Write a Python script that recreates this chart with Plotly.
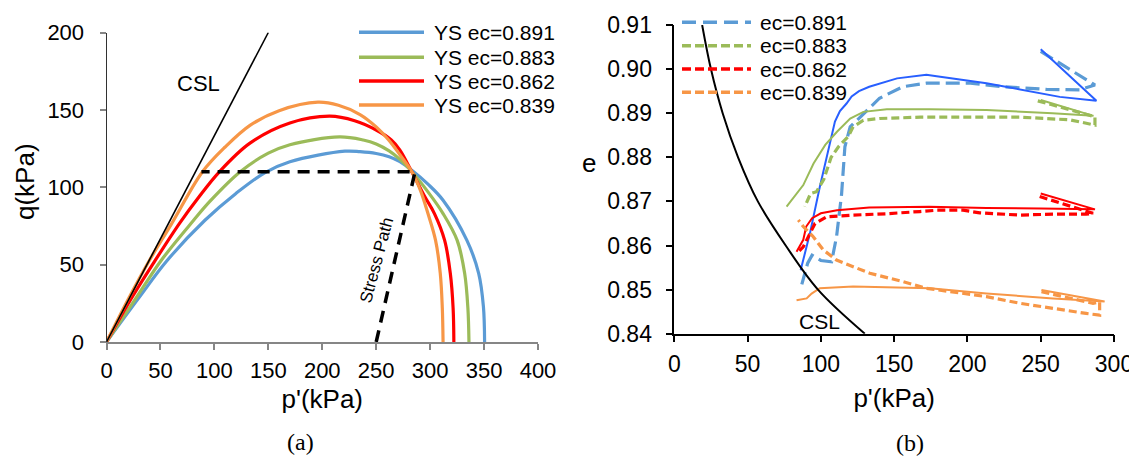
import plotly.graph_objects as go

# The page body has an 8px margin, so the figure is 8px smaller than the window
W, H = 1129, 448
OFF = 8

# ---------------- Panel (a): yield surfaces in p'-q space ----------------
csl_a_p = [0, 150]
csl_a_q = [0, 200]

stress_p = [250, 286, 88]
stress_q = [0, 110, 110]

ys_labels = ["YS ec=0.891", "YS ec=0.883", "YS ec=0.862", "YS ec=0.839"]

ys891_p = [0, 30, 56, 91, 120, 147, 170, 221, 235, 250, 262, 272, 283, 298, 312, 334, 345, 349.4, 350.5]
ys891_q = [0, 28.5, 52.5, 78.5, 96, 109.5, 116.5, 123.3, 123, 121.8, 119.7, 116.5, 111, 102, 91.6, 65.8, 44.4, 22.8, 0]

ys883_p = [0, 27, 51, 80, 96, 124, 150, 170, 216, 238, 250, 262, 272, 283, 298, 312, 325, 332, 335, 336]
ys883_q = [0, 28, 53, 78, 91, 110, 122, 127.5, 132.5, 130.5, 128, 123.5, 118, 110, 97, 83, 65.8, 44.4, 22, 0]

ys862_p = [0, 22, 44, 68, 86, 104, 133, 170, 207, 230, 250, 264, 272, 283, 295, 304, 313.4, 318.7, 321.3, 322]
ys862_q = [0, 27, 51.5, 77, 94, 109.5, 128.5, 141.5, 145.9, 143, 137, 130.5, 124, 110, 94, 83, 65.8, 44.4, 22, 0]

ys839_p = [0, 20, 40, 60, 89, 110, 133, 160, 196, 215, 235, 250, 261, 272, 283, 291, 298, 305, 309.4, 311.3, 312]
ys839_q = [0, 27.5, 53, 76, 110, 126, 140, 149.5, 155, 153, 147, 139, 131, 121, 110, 98, 83, 65.8, 44.4, 22, 0]

a_xticks = [0, 50, 100, 150, 200, 250, 300, 350, 400]
a_yticks = [0, 50, 100, 150, 200]

# ---------------- Panel (b): e - p' space ----------------
csl_b_p = [19, 25, 33, 43.5, 57, 76, 98, 130]
csl_b_e = [0.91, 0.90, 0.89, 0.88, 0.87, 0.86, 0.85, 0.84]

ec_labels = ["ec=0.891", "ec=0.883", "ec=0.862", "ec=0.839"]

sim891_p = [250, 288, 263, 236, 213, 179, 172, 152, 133, 126, 121, 117.5, 113, 109.6, 105, 99.3, 92.5, 86.2]
sim891_e = [0.9045, 0.8928, 0.8937, 0.8953, 0.8968, 0.8984, 0.8987, 0.8979, 0.8960, 0.8950, 0.8938, 0.8922, 0.8905, 0.8881, 0.8817, 0.8733, 0.8627, 0.8544]
exp891_p = [250, 287, 276.6, 254, 224, 202, 172, 156, 140, 127, 120, 116.4, 114.1, 110.7, 107.3, 100, 94, 91, 87]
exp891_e = [0.9040, 0.8964, 0.8953, 0.8954, 0.8960, 0.8968, 0.8968, 0.8960, 0.8934, 0.8892, 0.8869, 0.8824, 0.8715, 0.8620, 0.8563, 0.8566, 0.8578, 0.8560, 0.8512]

sim883_p = [250, 286, 258, 213, 174, 145, 129, 120, 111, 103, 95, 88, 76.6]
sim883_e = [0.8930, 0.8894, 0.8900, 0.8907, 0.8909, 0.8909, 0.8903, 0.8888, 0.8858, 0.8828, 0.8786, 0.8737, 0.8688]
exp883_p = [248, 287, 287, 270, 236, 190, 168, 140, 129, 122, 118.7, 112, 107, 102, 97, 93, 89]
exp883_e = [0.8928, 0.8892, 0.8873, 0.8885, 0.8891, 0.8892, 0.8891, 0.8888, 0.8884, 0.8869, 0.8847, 0.8824, 0.8800, 0.8750, 0.8722, 0.8718, 0.8688]

sim862_p = [250, 287, 286, 250, 213, 174, 133, 111, 100, 94, 90, 88, 83.4]
sim862_e = [0.8718, 0.8682, 0.8682, 0.8684, 0.8685, 0.8688, 0.8686, 0.8680, 0.8673, 0.8662, 0.8643, 0.8613, 0.8586]
exp862_p = [249.3, 285.7, 281, 258.4, 235.7, 224.3, 208.4, 197, 179, 167.5, 144.8, 122, 104, 96, 92.5, 88, 83.4]
exp862_e = [0.8711, 0.8673, 0.8671, 0.8671, 0.8669, 0.8671, 0.8674, 0.8680, 0.8680, 0.8677, 0.8672, 0.8669, 0.8665, 0.8650, 0.8628, 0.8597, 0.8582]

sim839_p = [250.5, 293.6, 258.4, 213, 174.4, 122, 99.3, 93.7, 90.3, 83.4]
sim839_e = [0.8499, 0.8473, 0.8480, 0.8491, 0.8503, 0.8507, 0.8503, 0.8491, 0.8480, 0.8476]
exp839_p = [250.5, 285.7, 290.2, 290.2, 281, 258.4, 235.7, 213, 190.2, 172, 156.2, 133.4, 110.7, 101.6, 94.8, 88, 84.6]
exp839_e = [0.8495, 0.8469, 0.8472, 0.8442, 0.8446, 0.8457, 0.8469, 0.8484, 0.8495, 0.8503, 0.8518, 0.8537, 0.8567, 0.8590, 0.8620, 0.8643, 0.8658]

b_xticks = [0, 50, 100, 150, 200, 250, 300]
b_yticks = [0.84, 0.85, 0.86, 0.87, 0.88, 0.89, 0.90, 0.91]
b_yticklabels = ["0.84", "0.85", "0.86", "0.87", "0.88", "0.89", "0.90", "0.91"]

# ---------------- styles ----------------
BLUE = "rgb(91,155,213)"
BLUE_SIM = "rgb(40,95,255)"
GREEN = "rgb(155,187,89)"
RED = "rgb(255,0,0)"
ORANGE = "rgb(247,150,70)"
FONT = "Liberation Sans, Arial, sans-serif"
SERIF = "Liberation Serif, Times New Roman, serif"
GRAYAX = "rgb(134,134,134)"


def px(x):
    return (x - OFF) / W


def py(y):
    return 1 - (y - OFF) / H


fig = go.Figure()

# panel (a)
for p, q, c in [(ys891_p, ys891_q, BLUE), (ys883_p, ys883_q, GREEN),
                (ys862_p, ys862_q, RED), (ys839_p, ys839_q, ORANGE)]:
    fig.add_trace(go.Scatter(x=p, y=q, mode="lines", xaxis="x", yaxis="y",
                             line=dict(color=c, width=3.2, shape="spline", smoothing=1.0),
                             showlegend=False, hoverinfo="skip"))
fig.add_trace(go.Scatter(x=csl_a_p, y=csl_a_q, mode="lines", xaxis="x", yaxis="y",
                         line=dict(color="black", width=1.6), showlegend=False))
fig.add_trace(go.Scatter(x=stress_p, y=stress_q, mode="lines", xaxis="x", yaxis="y",
                         line=dict(color="black", width=3.5, dash="12px,8px"), showlegend=False))

# panel (b)
pairs_b = [
    (sim891_p, sim891_e, exp891_p, exp891_e, BLUE_SIM, BLUE, "14px,6px"),
    (sim883_p, sim883_e, exp883_p, exp883_e, GREEN, GREEN, "8px,4px"),
    (sim862_p, sim862_e, exp862_p, exp862_e, RED, RED, "8px,4px"),
    (sim839_p, sim839_e, exp839_p, exp839_e, ORANGE, ORANGE, "8px,4px"),
]
for sp, se, ep, ee, cs, ce, dsh in pairs_b:
    fig.add_trace(go.Scatter(x=ep, y=ee, mode="lines", xaxis="x2", yaxis="y2",
                             line=dict(color=ce, width=3.2, dash=dsh), showlegend=False))
    fig.add_trace(go.Scatter(x=sp, y=se, mode="lines", xaxis="x2", yaxis="y2",
                             line=dict(color=cs, width=2), showlegend=False))
fig.add_trace(go.Scatter(x=csl_b_p, y=csl_b_e, mode="lines", xaxis="x2", yaxis="y2",
                         line=dict(color="black", width=2, shape="spline", smoothing=1.0),
                         showlegend=False))

tickfont_a = dict(family=FONT, size=22, color="black")
tickfont_b = dict(family=FONT, size=23, color="black")
titlefont = dict(family=FONT, size=26, color="black")

dom_ax = [px(106.5), px(538)]
dom_ay = [py(342), py(32.5)]
dom_bx = [px(674.3), px(1114)]
dom_by = [py(333.7), py(25)]

fig.update_layout(
    width=W, height=H,
    margin=dict(l=0, r=0, t=0, b=0, autoexpand=False),
    paper_bgcolor="white", plot_bgcolor="white",
    showlegend=False,
    xaxis=dict(domain=dom_ax, anchor="y", range=[0, 400], tickvals=a_xticks,
               showgrid=False, zeroline=False, showline=True, linecolor=GRAYAX, linewidth=2,
               ticks="outside", ticklen=6, tickwidth=1.5, tickcolor=GRAYAX, ticklabelstandoff=2,
               tickfont=tickfont_a, title=dict(text="p'(kPa)", font=titlefont, standoff=7)),
    yaxis=dict(domain=dom_ay, anchor="x", range=[0, 200], tickvals=a_yticks,
               showgrid=False, zeroline=False, showline=True, linecolor="rgb(50,50,50)", linewidth=1,
               ticks="outside", ticklen=6, tickwidth=1.5, tickcolor=GRAYAX, ticklabelstandoff=11,
               tickfont=tickfont_a),
    xaxis2=dict(domain=dom_bx, anchor="y2", range=[0, 300], tickvals=b_xticks,
                showgrid=False, zeroline=False, showline=True, linecolor="black", linewidth=1.5,
                ticks="outside", ticklen=7, tickwidth=1.5, tickcolor="black", ticklabelstandoff=2,
                tickfont=tickfont_b, title=dict(text="p'(kPa)", font=titlefont, standoff=13)),
    yaxis2=dict(domain=dom_by, anchor="x2", range=[0.84, 0.91], tickvals=b_yticks,
                ticktext=b_yticklabels,
                showgrid=False, zeroline=False, showline=True, linecolor="black", linewidth=1.5,
                ticks="outside", ticklen=7, tickwidth=1.5, tickcolor="black", ticklabelstandoff=9,
                tickfont=tickfont_b),
)

C = dict(xanchor="center", yanchor="middle", showarrow=False)
annotations = [
    dict(text="q(kPa)", x=px(25), y=py(182), xref="paper", yref="paper",
         textangle=-90, font=titlefont, **C),
    dict(text="e", x=px(589), y=py(163), xref="paper", yref="paper", font=titlefont, **C),
    dict(text="CSL", x=85, y=167, xref="x", yref="y",
         font=dict(family=FONT, size=22, color="black"), **C),
    dict(text="Stress Path", x=251, y=53, xref="x", yref="y", textangle=-75,
         font=dict(family=FONT, size=17, color="black"), **C),
    dict(text="CSL", x=99, y=0.8427, xref="x2", yref="y2",
         font=dict(family=FONT, size=21, color="black"), **C),
    dict(text="(a)", x=px(300), y=py(442), xref="paper", yref="paper",
         font=dict(family=SERIF, size=24, color="black"), **C),
    dict(text="(b)", x=px(910), y=py(443), xref="paper", yref="paper",
         font=dict(family=SERIF, size=24, color="black"), **C),
]

shapes = []
# custom legend for panel (a)
rows_a = [32.3, 57.3, 81, 105]
for lab, c, yy in zip(ys_labels, [BLUE, GREEN, RED, ORANGE], rows_a):
    shapes.append(dict(type="line", xref="paper", yref="paper", x0=px(359), x1=px(424),
                       y0=py(yy), y1=py(yy), line=dict(color=c, width=3.5)))
    annotations.append(dict(text=lab, x=px(432), y=py(yy), xref="paper", yref="paper",
                            xanchor="left", yanchor="middle", showarrow=False,
                            font=dict(family=FONT, size=21, color="black")))
# custom legend for panel (b)
rows_b = [22.3, 45.7, 69, 92.3]
for lab, c, yy, dsh in zip(ec_labels, [BLUE, GREEN, RED, ORANGE], rows_b,
                           ["14px,7px", "9px,4px", "9px,4px", "9px,4px"]):
    shapes.append(dict(type="line", xref="paper", yref="paper", x0=px(682), x1=px(751),
                       y0=py(yy), y1=py(yy), line=dict(color=c, width=3.5, dash=dsh)))
    annotations.append(dict(text=lab, x=px(758), y=py(yy), xref="paper", yref="paper",
                            xanchor="left", yanchor="middle", showarrow=False,
                            font=dict(family=FONT, size=21, color="black")))

fig.update_layout(annotations=annotations, shapes=shapes)

fig.write_html("out.html")
